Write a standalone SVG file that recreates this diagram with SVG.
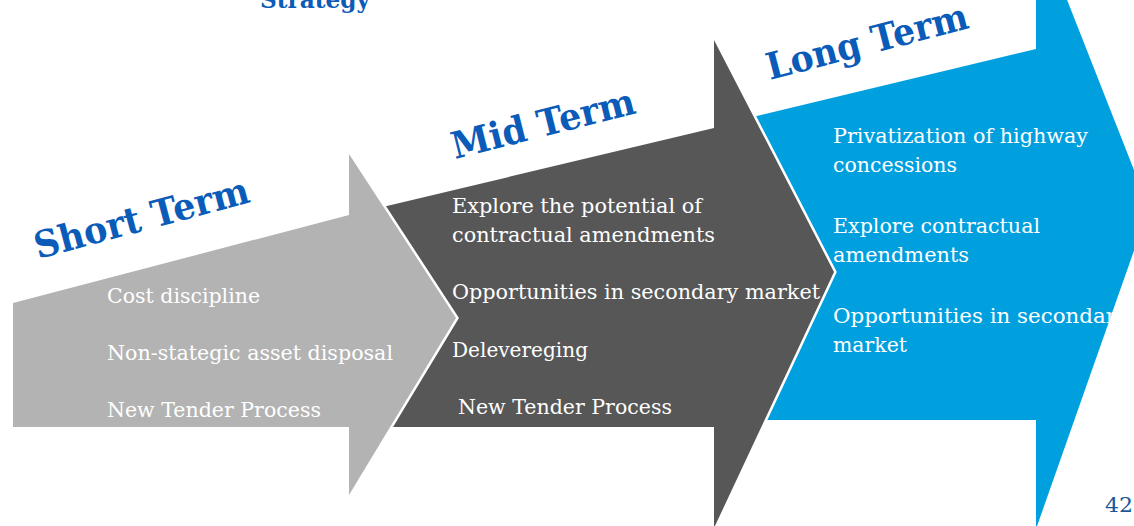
<svg xmlns="http://www.w3.org/2000/svg" width="1134" height="526" viewBox="0 0 1134 526">
  <style>
    .arrow { stroke: #FFFFFF; stroke-width: 5; stroke-linejoin: miter; paint-order: stroke; }
    .body { font-family: "DejaVu Serif", "Liberation Serif", serif; font-size: 20.5px; fill: #FFFFFF; }
    .title { font-family: "DejaVu Serif", "Liberation Serif", serif; font-size: 37px; font-weight: bold; fill: #0B5CB8; }
  </style>
  <rect x="0" y="0" width="1134" height="526" fill="#FFFFFF"/>
  <text x="260" y="8" class="title" style="font-size:25px" textLength="110" lengthAdjust="spacingAndGlyphs">Strategy</text>

  <g id="long-term">
    <polygon class="arrow" fill="#00A0DF" points="740,120 1036,49 1036,-79 1149,208 1036,529 1036,420 740,420"/>
    <text class="title" x="770" y="80" transform="rotate(-14.6 770 80)" textLength="207" lengthAdjust="spacingAndGlyphs">Long Term</text>
    <text class="body" x="833" y="143" textLength="255" lengthAdjust="spacingAndGlyphs">Privatization of highway</text>
    <text class="body" x="833" y="172" textLength="124" lengthAdjust="spacingAndGlyphs">concessions</text>
    <text class="body" x="833" y="233" textLength="207" lengthAdjust="spacingAndGlyphs">Explore contractual</text>
    <text class="body" x="833" y="262" textLength="136" lengthAdjust="spacingAndGlyphs">amendments</text>
    <text class="body" x="833" y="323" textLength="295" lengthAdjust="spacingAndGlyphs">Opportunities in secondary</text>
    <text class="body" x="833" y="352" textLength="74" lengthAdjust="spacingAndGlyphs">market</text>
  </g>

  <g id="mid-term">
    <polygon class="arrow" fill="#575757" points="370,210 714,128 714,40 834,272 714,528 714,427 370,427"/>
    <text class="title" x="455" y="159" transform="rotate(-14.2 455 159)" textLength="188" lengthAdjust="spacingAndGlyphs">Mid Term</text>
    <text class="body" x="452" y="213" textLength="250" lengthAdjust="spacingAndGlyphs">Explore the potential of</text>
    <text class="body" x="452" y="242" textLength="263" lengthAdjust="spacingAndGlyphs">contractual amendments</text>
    <text class="body" x="452" y="299" textLength="368" lengthAdjust="spacingAndGlyphs">Opportunities in secondary market</text>
    <text class="body" x="452" y="357" textLength="136" lengthAdjust="spacingAndGlyphs">Delevereging</text>
    <text class="body" x="458" y="414" textLength="214" lengthAdjust="spacingAndGlyphs">New Tender Process</text>
  </g>

  <g id="short-term">
    <polygon class="arrow" fill="#B3B3B3" points="13,303 349,215 349,154 456,318 349,495 349,427 13,427"/>
    <text class="title" x="38" y="259" transform="rotate(-15 38 259)" textLength="221" lengthAdjust="spacingAndGlyphs">Short Term</text>
    <text class="body" x="107" y="303" textLength="153" lengthAdjust="spacingAndGlyphs">Cost discipline</text>
    <text class="body" x="107" y="360" textLength="286" lengthAdjust="spacingAndGlyphs">Non-stategic asset disposal</text>
    <text class="body" x="107" y="417" textLength="214" lengthAdjust="spacingAndGlyphs">New Tender Process</text>
  </g>

  <g id="connectors"/>

  <text x="1105" y="512" style="font-family:'DejaVu Serif','Liberation Serif',serif;font-size:21px;fill:#1B5799" textLength="28" lengthAdjust="spacingAndGlyphs">42</text>
</svg>
